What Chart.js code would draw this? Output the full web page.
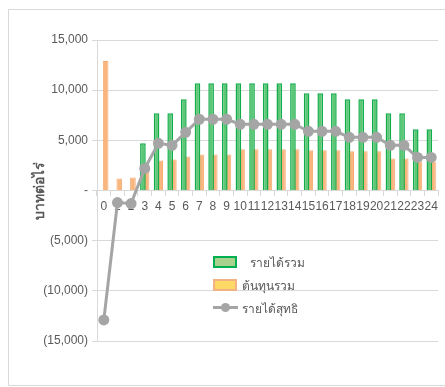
<!DOCTYPE html>
<html>
<head>
<meta charset="utf-8">
<script src="https://cdn.jsdelivr.net/npm/chart.js@4.4.0/dist/chart.umd.min.js"></script>
<style>
  html, body { margin: 0; padding: 0; background: #fff; }
  #wrap { position: relative; width: 445px; height: 387px; overflow: hidden; }
  #cv { position: absolute; left: 0; top: 0; }
  .legend { position: absolute; left: 213px; top: 255px; font-family: "Liberation Sans Narrow", "Liberation Sans", sans-serif; font-size: 12px; color: #595959; }
  .item { position: absolute; left: 0; height: 14px; width: 120px; white-space: nowrap; }
  .box { position: absolute; left: 0; top: 1px; width: 20px; height: 8px; border: 2px solid; box-sizing: content-box; }
  .item span { position: absolute; top: -2px; }
</style>
</head>
<body>
<div id="wrap">
  <canvas id="cv" width="445" height="387"></canvas>
  <div class="legend">
    <div class="item" style="top:0px"><div class="box" style="border-color:#00B050;background:#A9D18E"></div><span style="left:37px">รายได้รวม</span></div>
    <div class="item" style="top:23px"><div class="box" style="border-color:#F4B183;background:#FFD966"></div><span style="left:29px">ต้นทุนรวม</span></div>
    <div class="item" style="top:46px">
      <div style="position:absolute;left:0;top:5px;width:25px;height:3px;background:#A5A5A5"></div>
      <div style="position:absolute;left:8px;top:2px;width:9px;height:9px;border-radius:50%;background:#A5A5A5"></div>
      <span style="left:29px">รายได้สุทธิ</span>
    </div>
  </div>
</div>
<script>
// --- DATA ---
const years = ['0','1','2','3','4','5','6','7','8','9','10','11','12','13','14','15','16','17','18','19','20','21','22','23','24'];
const revenue = [0,0,0,4700,7700,7700,9100,10700,10700,10700,10700,10700,10700,10700,10700,9700,9700,9700,9100,9100,9100,7700,7700,6100,6100];
const cost = [12900,1200,1300,2400,3000,3100,3400,3600,3600,3600,4100,4100,4100,4100,4100,4000,4000,4000,3900,3900,3900,3200,3200,2900,2900];
const net = [-12900,-1200,-1300,2200,4700,4500,5800,7100,7100,7100,6600,6600,6600,6600,6600,5900,5900,5900,5300,5300,5300,4500,4500,3300,3300];
const seriesNames = ['รายได้รวม', 'ต้นทุนรวม', 'รายได้สุทธิ'];
const yTitle = 'บาทต่อไร่';

const tickFont = { family: '"Liberation Sans Narrow", "Liberation Sans", sans-serif', size: 12 };

// excel style accounting labels
const fmt = v => {
    if (v === 0) return '-';
    const s = Math.abs(v).toLocaleString('en-US');
    return v < 0 ? '(' + s + ')' : s;
};

// chart frame, open on the right side (cut off like the original)
const framePlugin = {
    id: 'frame',
    beforeDraw(chart) {
        const c = chart.ctx;
        c.save();
        c.strokeStyle = '#D9D9D9';
        c.lineWidth = 1;
        c.beginPath();
        c.moveTo(chart.width, 9.5);
        c.lineTo(8.5, 9.5);
        c.lineTo(8.5, 385.5);
        c.lineTo(chart.width, 385.5);
        c.stroke();
        c.restore();
    }
};

new Chart(document.getElementById('cv'), {
    type: 'bar',
    data: {
        labels: years,
        datasets: [
            {
                label: seriesNames[0],
                data: revenue,
                backgroundColor: '#5DC777',
                borderColor: '#12AD4A',
                borderWidth: 1.5,
                order: 1
            },
            {
                label: seriesNames[1],
                data: cost,
                backgroundColor: '#F9B57E',
                borderColor: '#F5AC74',
                borderWidth: 1,
                order: 2
            },
            {
                type: 'line',
                label: seriesNames[2],
                data: net,
                borderColor: '#A5A5A5',
                backgroundColor: '#A5A5A5',
                borderWidth: 3,
                pointRadius: 4,
                pointBackgroundColor: '#A5A5A5',
                pointBorderColor: '#A5A5A5',
                tension: 0,
                order: 0
            }
        ]
    },
    options: {
        responsive: false,
        animation: false,
        layout: { padding: { top: 40, bottom: 46, right: 2, left: 32 } },
        datasets: { bar: { categoryPercentage: 0.535, barPercentage: 1.55 } },
        plugins: { legend: { display: false }, tooltip: { enabled: false } },
        scales: {
            x: {
                position: { y: 0 },
                grid: { drawOnChartArea: false, drawTicks: true, tickLength: 5, color: '#D9D9D9', offset: true },
                border: { display: true, color: '#D9D9D9' },
                ticks: { color: '#595959', font: tickFont, autoSkip: false, maxRotation: 0, padding: 4 }
            },
            y: {
                min: -15000,
                max: 15000,
                afterFit: s => { s.width = 65; },
                grid: { color: '#D9D9D9', tickLength: 5 },
                border: { display: true, color: '#D9D9D9' },
                ticks: { stepSize: 5000, color: '#595959', font: tickFont, padding: 4, callback: v => fmt(v) },
                title: {
                    display: true,
                    text: yTitle,
                    color: '#595959',
                    font: { family: '"Liberation Sans", sans-serif', size: 14, weight: 'bold' },
                    padding: 0
                }
            }
        }
    },
    plugins: [framePlugin]
});
</script>
</body>
</html>
